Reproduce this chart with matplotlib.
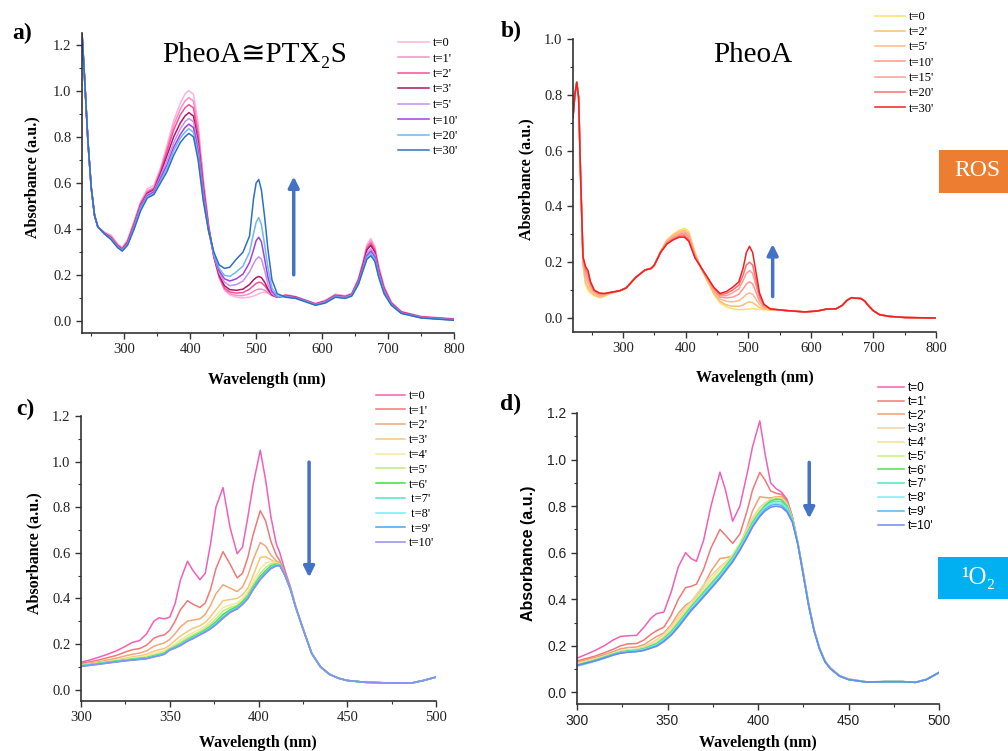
import matplotlib
matplotlib.use("Agg")
import matplotlib.pyplot as plt
from matplotlib.patches import Rectangle
from matplotlib.ticker import MultipleLocator, FormatStrFormatter

SERIF = ['Liberation Serif', 'DejaVu Serif', 'DejaVu Sans']
SANS = ['Liberation Sans', 'DejaVu Sans']

# ---------------- panel a: PheoA~PTX2S, ROS ----------------
wl_a = [236, 240, 245, 250, 255, 260, 270, 280, 290, 297,
        305, 315, 325, 335, 345, 355, 365, 375, 385, 392, 398,
        405, 412, 420, 428, 436, 444, 452, 460,
        470, 480, 490, 496, 500, 504, 508, 513, 518, 524, 532,
        545, 560, 575, 590, 605, 620, 635, 645, 655, 662,
        668, 674, 680, 686, 694, 705, 720, 750, 800]
labels_a = ["t=0", "t=1'", "t=2'", "t=3'", "t=5'", "t=10'", "t=20'", "t=30'"]
colors_a = ['#ffb3da', '#ff8cc8', '#f5509a', '#b01860',
            '#c890f0', '#a040e8', '#70b8f0', '#2e70c0']
a_t0 = [1.25, 1.05, 0.78, 0.58, 0.46, 0.41, 0.387, 0.375, 0.336, 0.32,
        0.355, 0.435, 0.52, 0.575, 0.59, 0.665, 0.765, 0.87, 0.945, 0.985, 1.0,
        0.985, 0.86, 0.62, 0.42, 0.28, 0.19, 0.135, 0.115,
        0.105, 0.102, 0.105, 0.11, 0.115, 0.12, 0.125, 0.127, 0.122, 0.112, 0.105,
        0.117, 0.108, 0.093, 0.078, 0.092, 0.118, 0.112, 0.122, 0.186, 0.26,
        0.333, 0.36, 0.325, 0.24, 0.152, 0.085, 0.044, 0.022, 0.012]
a_t1 = [1.25, 1.05, 0.78, 0.58, 0.46, 0.41, 0.385, 0.37, 0.333, 0.318,
        0.35, 0.43, 0.515, 0.565, 0.58, 0.655, 0.75, 0.85, 0.92, 0.955, 0.97,
        0.955, 0.835, 0.605, 0.415, 0.28, 0.19, 0.14, 0.12,
        0.113, 0.112, 0.12, 0.13, 0.137, 0.14, 0.14, 0.135, 0.125, 0.112, 0.105,
        0.115, 0.107, 0.092, 0.077, 0.09, 0.116, 0.11, 0.12, 0.183, 0.255,
        0.325, 0.35, 0.318, 0.233, 0.148, 0.082, 0.042, 0.021, 0.011]
a_t2 = [1.25, 1.05, 0.78, 0.58, 0.46, 0.41, 0.383, 0.365, 0.33, 0.315,
        0.345, 0.425, 0.51, 0.56, 0.575, 0.65, 0.74, 0.83, 0.895, 0.925, 0.94,
        0.925, 0.81, 0.59, 0.41, 0.28, 0.195, 0.145, 0.128,
        0.123, 0.125, 0.14, 0.155, 0.165, 0.17, 0.168, 0.155, 0.135, 0.115, 0.105,
        0.113, 0.106, 0.091, 0.076, 0.088, 0.114, 0.108, 0.118, 0.18, 0.25,
        0.318, 0.34, 0.31, 0.227, 0.145, 0.08, 0.041, 0.02, 0.01]
a_t3 = [1.25, 1.05, 0.78, 0.58, 0.46, 0.41, 0.382, 0.362, 0.327, 0.312,
        0.342, 0.42, 0.505, 0.555, 0.57, 0.64, 0.72, 0.80, 0.86, 0.89, 0.905,
        0.89, 0.78, 0.575, 0.405, 0.28, 0.20, 0.155, 0.138,
        0.135, 0.14, 0.16, 0.18, 0.19, 0.195, 0.19, 0.17, 0.14, 0.115, 0.105,
        0.112, 0.105, 0.09, 0.075, 0.087, 0.112, 0.107, 0.117, 0.175, 0.245,
        0.31, 0.33, 0.30, 0.22, 0.14, 0.078, 0.04, 0.019, 0.009]
a_t5 = [1.25, 1.05, 0.78, 0.58, 0.46, 0.41, 0.38, 0.36, 0.325, 0.31,
        0.338, 0.415, 0.50, 0.55, 0.565, 0.63, 0.70, 0.775, 0.835, 0.865, 0.88,
        0.865, 0.76, 0.56, 0.40, 0.285, 0.21, 0.17, 0.155,
        0.16, 0.175, 0.215, 0.25, 0.27, 0.28, 0.27, 0.22, 0.16, 0.12, 0.105,
        0.11, 0.103, 0.089, 0.074, 0.085, 0.11, 0.105, 0.115, 0.17, 0.235,
        0.295, 0.315, 0.29, 0.212, 0.135, 0.076, 0.038, 0.018, 0.008]
a_t10 = [1.25, 1.05, 0.78, 0.58, 0.46, 0.41, 0.38, 0.358, 0.323, 0.308,
         0.335, 0.41, 0.495, 0.545, 0.56, 0.62, 0.68, 0.755, 0.81, 0.84, 0.855,
         0.84, 0.74, 0.545, 0.395, 0.29, 0.22, 0.185, 0.175,
         0.185, 0.205, 0.255, 0.31, 0.35, 0.365, 0.345, 0.27, 0.19, 0.13, 0.107,
         0.108, 0.102, 0.088, 0.073, 0.083, 0.108, 0.103, 0.113, 0.166, 0.23,
         0.285, 0.305, 0.28, 0.205, 0.13, 0.074, 0.037, 0.017, 0.007]
a_t20 = [1.25, 1.05, 0.78, 0.58, 0.46, 0.41, 0.38, 0.357, 0.322, 0.307,
         0.333, 0.405, 0.49, 0.54, 0.555, 0.61, 0.665, 0.74, 0.795, 0.82, 0.835,
         0.82, 0.72, 0.53, 0.39, 0.29, 0.23, 0.20, 0.195,
         0.215, 0.24, 0.30, 0.38, 0.43, 0.45, 0.42, 0.33, 0.23, 0.145, 0.11,
         0.107, 0.10, 0.087, 0.072, 0.082, 0.107, 0.102, 0.112, 0.163, 0.225,
         0.278, 0.295, 0.27, 0.198, 0.125, 0.072, 0.036, 0.016, 0.006]
a_t30 = [1.25, 1.05, 0.78, 0.58, 0.46, 0.41, 0.38, 0.355, 0.32, 0.305,
         0.33, 0.40, 0.48, 0.535, 0.55, 0.60, 0.65, 0.72, 0.775, 0.80, 0.815,
         0.80, 0.70, 0.52, 0.39, 0.30, 0.245, 0.23, 0.235,
         0.27, 0.30, 0.37, 0.53, 0.60, 0.615, 0.57, 0.45, 0.31, 0.18, 0.12,
         0.105, 0.10, 0.085, 0.07, 0.08, 0.105, 0.10, 0.11, 0.16, 0.22,
         0.27, 0.285, 0.26, 0.19, 0.12, 0.07, 0.035, 0.015, 0.005]
series_a = [a_t0, a_t1, a_t2, a_t3, a_t5, a_t10, a_t20, a_t30]

# ---------------- panel b: PheoA, ROS ----------------
wl_b = [220, 223, 226, 229, 232, 236, 240, 244, 248, 254,
        262, 270, 280, 295, 305, 320, 335, 345, 350, 360,
        370, 380, 390, 398, 405, 415, 425, 435, 445, 455,
        465, 475, 485, 492, 497, 502, 507, 512, 518, 525,
        535, 560, 590, 610, 625, 640, 650, 658, 665, 672,
        680, 686, 693, 700, 710, 725, 750, 800]
labels_b = ["t=0", "t=2'", "t=5'", "t=10'", "t=15'", "t=20'", "t=30'"]
colors_b = ['#ffe066', '#f8c070', '#ffb890', '#ff9a8a', '#ff9c9c', '#f87070', '#f02020']
b_t0 = [0.72, 0.80, 0.845, 0.79, 0.52, 0.19, 0.12, 0.10, 0.09, 0.08,
        0.073, 0.077, 0.088, 0.098, 0.108, 0.145, 0.172, 0.178, 0.19, 0.24,
        0.28, 0.30, 0.315, 0.322, 0.31, 0.235, 0.175, 0.13, 0.085, 0.055,
        0.04, 0.033, 0.03, 0.03, 0.031, 0.033, 0.033, 0.032, 0.031, 0.03,
        0.029, 0.027, 0.022, 0.025, 0.032, 0.033, 0.045, 0.064, 0.073, 0.071,
        0.07, 0.061, 0.042, 0.026, 0.012, 0.006, 0.002, 0.0]
b_t2 = [0.72, 0.80, 0.845, 0.79, 0.52, 0.195, 0.13, 0.11, 0.095, 0.083,
        0.076, 0.08, 0.089, 0.098, 0.108, 0.145, 0.172, 0.178, 0.19, 0.239,
        0.278, 0.297, 0.31, 0.315, 0.303, 0.232, 0.177, 0.133, 0.09, 0.06,
        0.047, 0.042, 0.042, 0.047, 0.054, 0.058, 0.055, 0.047, 0.038, 0.033,
        0.03, 0.027, 0.022, 0.025, 0.032, 0.033, 0.045, 0.064, 0.073, 0.071,
        0.07, 0.061, 0.042, 0.026, 0.012, 0.006, 0.002, 0.0]
b_t5 = [0.72, 0.80, 0.845, 0.79, 0.52, 0.20, 0.145, 0.125, 0.105, 0.088,
        0.08, 0.083, 0.09, 0.098, 0.108, 0.145, 0.172, 0.178, 0.19, 0.238,
        0.275, 0.293, 0.305, 0.31, 0.298, 0.228, 0.178, 0.137, 0.097, 0.068,
        0.06, 0.058, 0.062, 0.074, 0.085, 0.09, 0.085, 0.068, 0.048, 0.036,
        0.031, 0.027, 0.022, 0.025, 0.032, 0.033, 0.045, 0.064, 0.073, 0.071,
        0.07, 0.061, 0.042, 0.026, 0.012, 0.006, 0.002, 0.0]
b_t10 = [0.72, 0.80, 0.845, 0.79, 0.52, 0.205, 0.155, 0.14, 0.115, 0.093,
         0.083, 0.085, 0.091, 0.098, 0.108, 0.145, 0.172, 0.178, 0.19, 0.237,
         0.272, 0.289, 0.30, 0.305, 0.292, 0.224, 0.179, 0.14, 0.102, 0.075,
         0.072, 0.075, 0.085, 0.105, 0.122, 0.13, 0.122, 0.095, 0.06, 0.04,
         0.032, 0.027, 0.022, 0.025, 0.032, 0.033, 0.045, 0.064, 0.073, 0.071,
         0.07, 0.061, 0.042, 0.026, 0.012, 0.006, 0.002, 0.0]
b_t15 = [0.72, 0.80, 0.845, 0.79, 0.52, 0.21, 0.165, 0.15, 0.12, 0.096,
         0.086, 0.086, 0.091, 0.098, 0.108, 0.145, 0.172, 0.178, 0.19, 0.236,
         0.27, 0.286, 0.297, 0.30, 0.285, 0.22, 0.18, 0.142, 0.105, 0.08,
         0.08, 0.09, 0.105, 0.135, 0.16, 0.17, 0.16, 0.12, 0.072, 0.044,
         0.032, 0.027, 0.022, 0.025, 0.032, 0.033, 0.045, 0.064, 0.073, 0.071,
         0.07, 0.061, 0.042, 0.026, 0.012, 0.006, 0.002, 0.0]
b_t20 = [0.72, 0.80, 0.845, 0.79, 0.52, 0.215, 0.175, 0.16, 0.125, 0.098,
         0.088, 0.087, 0.092, 0.098, 0.108, 0.145, 0.172, 0.178, 0.19, 0.236,
         0.268, 0.283, 0.293, 0.295, 0.28, 0.218, 0.18, 0.144, 0.108, 0.084,
         0.088, 0.10, 0.118, 0.155, 0.19, 0.20, 0.19, 0.14, 0.08, 0.047,
         0.033, 0.027, 0.022, 0.025, 0.032, 0.033, 0.045, 0.064, 0.073, 0.071,
         0.07, 0.061, 0.042, 0.026, 0.012, 0.006, 0.002, 0.0]
b_t30 = [0.72, 0.80, 0.845, 0.79, 0.52, 0.22, 0.185, 0.17, 0.13, 0.10,
         0.09, 0.088, 0.092, 0.098, 0.108, 0.145, 0.172, 0.178, 0.19, 0.235,
         0.265, 0.28, 0.29, 0.29, 0.275, 0.215, 0.18, 0.145, 0.11, 0.088,
         0.095, 0.11, 0.13, 0.18, 0.235, 0.257, 0.235, 0.17, 0.09, 0.05,
         0.033, 0.027, 0.022, 0.025, 0.032, 0.033, 0.045, 0.064, 0.073, 0.071,
         0.07, 0.061, 0.042, 0.026, 0.012, 0.006, 0.002, 0.0]
series_b = [b_t0, b_t2, b_t5, b_t10, b_t15, b_t20, b_t30]

# ---------------- panel c: 1O2 probe with PheoA~PTX2S ----------------
wl_c = [300, 305, 310, 315, 320, 325, 329, 333, 337, 341,
        344, 347, 350, 353, 356, 360, 363, 367, 370, 373,
        376, 380, 384, 388, 391, 394, 397, 401, 404, 407,
        410, 412, 415, 418, 421, 425, 430, 435, 440, 445,
        450, 460, 470, 480, 487, 493, 500]
labels_c = ["t=0", "t=1'", "t=2'", "t=3'", "t=4'", "t=5'", "t=6'",
            " t=7'", " t=8'", " t=9'", "t=10'"]
colors_c = ['#f060b8', '#f07878', '#f0a878', '#f5c878', '#f5e8a0', '#c0e880',
            '#40e040', '#50e8b8', '#70f0f0', '#40a8f0', '#9090f0']
c_t0 = [0.12, 0.13, 0.142, 0.155, 0.17, 0.19, 0.207, 0.215, 0.245, 0.30,
        0.315, 0.31, 0.318, 0.377, 0.48, 0.563, 0.523, 0.482, 0.51, 0.64,
        0.80, 0.886, 0.71, 0.596, 0.625, 0.757, 0.90, 1.05, 0.92, 0.757,
        0.64, 0.60, 0.52, 0.45, 0.365, 0.27, 0.16, 0.10, 0.068, 0.05,
        0.04, 0.033, 0.03, 0.029, 0.03, 0.04, 0.055]
c_t1 = [0.115, 0.122, 0.13, 0.14, 0.15, 0.165, 0.175, 0.18, 0.195, 0.225,
        0.235, 0.24, 0.26, 0.30, 0.35, 0.39, 0.375, 0.36, 0.38, 0.44,
        0.53, 0.605, 0.55, 0.49, 0.51, 0.58, 0.68, 0.785, 0.74, 0.65,
        0.59, 0.565, 0.51, 0.445, 0.36, 0.268, 0.158, 0.099, 0.067, 0.05,
        0.04, 0.032, 0.03, 0.029, 0.03, 0.04, 0.055]
c_t2 = [0.11, 0.116, 0.122, 0.13, 0.138, 0.148, 0.155, 0.16, 0.17, 0.19,
        0.198, 0.205, 0.22, 0.245, 0.275, 0.30, 0.305, 0.31, 0.33, 0.37,
        0.42, 0.46, 0.445, 0.43, 0.45, 0.50, 0.57, 0.645, 0.63, 0.59,
        0.565, 0.555, 0.505, 0.44, 0.36, 0.268, 0.158, 0.099, 0.067, 0.05,
        0.04, 0.032, 0.03, 0.029, 0.03, 0.04, 0.055]
c_t3 = [0.108, 0.113, 0.118, 0.124, 0.13, 0.138, 0.144, 0.148, 0.155, 0.168,
        0.175, 0.18, 0.195, 0.215, 0.235, 0.255, 0.268, 0.28, 0.295, 0.32,
        0.35, 0.39, 0.395, 0.40, 0.415, 0.445, 0.50, 0.58, 0.583, 0.57,
        0.558, 0.55, 0.50, 0.44, 0.36, 0.268, 0.158, 0.099, 0.067, 0.05,
        0.04, 0.032, 0.03, 0.029, 0.03, 0.04, 0.055]
c_t4 = [0.107, 0.112, 0.117, 0.122, 0.128, 0.134, 0.139, 0.143, 0.148, 0.158,
        0.165, 0.17, 0.185, 0.20, 0.218, 0.238, 0.25, 0.265, 0.28, 0.30,
        0.325, 0.36, 0.37, 0.38, 0.40, 0.43, 0.475, 0.53, 0.555, 0.562,
        0.555, 0.548, 0.50, 0.44, 0.36, 0.268, 0.158, 0.099, 0.067, 0.05,
        0.04, 0.032, 0.03, 0.029, 0.03, 0.04, 0.055]
c_t5 = [0.106, 0.111, 0.116, 0.121, 0.126, 0.131, 0.135, 0.139, 0.143, 0.152,
        0.158, 0.164, 0.18, 0.193, 0.208, 0.228, 0.24, 0.255, 0.27, 0.288,
        0.31, 0.345, 0.36, 0.37, 0.39, 0.42, 0.46, 0.51, 0.535, 0.552,
        0.553, 0.548, 0.50, 0.44, 0.36, 0.268, 0.158, 0.099, 0.067, 0.05,
        0.04, 0.032, 0.03, 0.029, 0.03, 0.04, 0.055]
c_t6 = [0.105, 0.11, 0.115, 0.12, 0.125, 0.13, 0.133, 0.137, 0.14, 0.148,
        0.153, 0.16, 0.177, 0.188, 0.20, 0.22, 0.232, 0.248, 0.262, 0.278,
        0.298, 0.33, 0.35, 0.365, 0.385, 0.41, 0.45, 0.497, 0.522, 0.543,
        0.55, 0.547, 0.50, 0.44, 0.36, 0.268, 0.158, 0.099, 0.067, 0.05,
        0.04, 0.032, 0.03, 0.029, 0.03, 0.04, 0.055]
c_t7 = [0.104, 0.109, 0.114, 0.119, 0.124, 0.129, 0.132, 0.135, 0.138, 0.146,
        0.151, 0.158, 0.176, 0.186, 0.197, 0.217, 0.228, 0.245, 0.258, 0.273,
        0.292, 0.322, 0.345, 0.36, 0.38, 0.405, 0.445, 0.49, 0.515, 0.537,
        0.548, 0.546, 0.50, 0.44, 0.36, 0.268, 0.158, 0.099, 0.067, 0.05,
        0.04, 0.032, 0.03, 0.029, 0.03, 0.04, 0.055]
c_t8 = [0.103, 0.108, 0.113, 0.118, 0.123, 0.128, 0.131, 0.134, 0.137, 0.145,
        0.15, 0.157, 0.175, 0.184, 0.195, 0.215, 0.226, 0.243, 0.256, 0.27,
        0.288, 0.318, 0.342, 0.357, 0.377, 0.402, 0.442, 0.487, 0.512, 0.534,
        0.546, 0.545, 0.50, 0.44, 0.36, 0.268, 0.158, 0.099, 0.067, 0.05,
        0.04, 0.032, 0.03, 0.029, 0.03, 0.04, 0.055]
c_t9 = [0.102, 0.107, 0.112, 0.117, 0.122, 0.127, 0.13, 0.133, 0.136, 0.144,
        0.149, 0.156, 0.174, 0.183, 0.194, 0.213, 0.224, 0.241, 0.254, 0.268,
        0.286, 0.315, 0.34, 0.355, 0.375, 0.40, 0.44, 0.485, 0.51, 0.532,
        0.544, 0.544, 0.50, 0.44, 0.36, 0.268, 0.158, 0.099, 0.067, 0.05,
        0.04, 0.032, 0.03, 0.029, 0.03, 0.04, 0.055]
c_t10 = [0.102, 0.106, 0.111, 0.116, 0.121, 0.126, 0.129, 0.132, 0.135, 0.143,
         0.148, 0.155, 0.173, 0.182, 0.193, 0.212, 0.223, 0.24, 0.252, 0.266,
         0.284, 0.312, 0.338, 0.353, 0.373, 0.398, 0.438, 0.482, 0.507, 0.53,
         0.542, 0.543, 0.50, 0.44, 0.36, 0.268, 0.158, 0.099, 0.067, 0.05,
         0.04, 0.032, 0.03, 0.029, 0.03, 0.04, 0.055]
series_c = [c_t0, c_t1, c_t2, c_t3, c_t4, c_t5, c_t6, c_t7, c_t8, c_t9, c_t10]

# ---------------- panel d: 1O2 probe with PheoA ----------------
wl_d = [300, 305, 310, 315, 320, 324, 328, 333, 337, 341,
        344, 348, 352, 356, 360, 363, 366, 370, 374, 379,
        382, 386, 390, 394, 397, 401, 404, 407, 410, 413,
        416, 419, 422, 425, 428, 431, 434, 437, 440, 445,
        450, 460, 470, 480, 487, 493, 500]
labels_d = ["t=0", "t=1'", "t=2'", "t=3'", "t=4'", "t=5'", "t=6'",
            "t=7'", "t=8'", "t=9'", "t=10'"]
colors_d = ['#f060b8', '#f07878', '#f0a070', '#f8d0a0', '#f0e090', '#c8f080',
            '#50e050', '#50e8c0', '#80f0f0', '#50b8f0', '#7088f0']
d_t0 = [0.147, 0.163, 0.18, 0.20, 0.225, 0.24, 0.243, 0.245, 0.28, 0.32,
        0.338, 0.345, 0.43, 0.54, 0.60, 0.575, 0.563, 0.655, 0.80, 0.946,
        0.87, 0.735, 0.80, 0.94, 1.056, 1.166, 1.02, 0.90, 0.875, 0.86,
        0.83, 0.755, 0.645, 0.515, 0.38, 0.27, 0.19, 0.135, 0.105, 0.072,
        0.057, 0.045, 0.046, 0.046, 0.043, 0.055, 0.085]
d_t1 = [0.135, 0.145, 0.156, 0.17, 0.185, 0.20, 0.208, 0.21, 0.225, 0.25,
        0.265, 0.28, 0.33, 0.40, 0.45, 0.455, 0.465, 0.53, 0.62, 0.70,
        0.675, 0.64, 0.68, 0.78, 0.87, 0.945, 0.91, 0.865, 0.855, 0.85,
        0.825, 0.752, 0.643, 0.513, 0.378, 0.268, 0.189, 0.134, 0.104, 0.072,
        0.057, 0.045, 0.046, 0.046, 0.043, 0.055, 0.085]
d_t2 = [0.13, 0.14, 0.15, 0.162, 0.175, 0.187, 0.192, 0.195, 0.205, 0.225,
        0.24, 0.255, 0.29, 0.34, 0.375, 0.39, 0.41, 0.46, 0.52, 0.575,
        0.578, 0.585, 0.63, 0.71, 0.78, 0.84, 0.837, 0.835, 0.84, 0.84,
        0.815, 0.75, 0.64, 0.51, 0.375, 0.266, 0.188, 0.133, 0.103, 0.071,
        0.056, 0.045, 0.046, 0.046, 0.043, 0.055, 0.085]
d_t3 = [0.125, 0.134, 0.144, 0.155, 0.167, 0.178, 0.183, 0.186, 0.196, 0.213,
        0.226, 0.25, 0.283, 0.325, 0.365, 0.39, 0.42, 0.462, 0.50, 0.54,
        0.557, 0.59, 0.64, 0.705, 0.75, 0.795, 0.815, 0.83, 0.838, 0.836,
        0.81, 0.748, 0.64, 0.51, 0.375, 0.266, 0.188, 0.133, 0.103, 0.071,
        0.056, 0.045, 0.046, 0.046, 0.043, 0.055, 0.085]
d_t4 = [0.122, 0.132, 0.142, 0.154, 0.166, 0.176, 0.181, 0.184, 0.192, 0.206,
        0.216, 0.24, 0.272, 0.312, 0.352, 0.38, 0.408, 0.448, 0.485, 0.53,
        0.555, 0.59, 0.64, 0.695, 0.74, 0.782, 0.808, 0.826, 0.835, 0.832,
        0.806, 0.746, 0.64, 0.51, 0.375, 0.266, 0.188, 0.133, 0.103, 0.071,
        0.056, 0.045, 0.046, 0.046, 0.043, 0.055, 0.085]
d_t5 = [0.118, 0.128, 0.139, 0.152, 0.165, 0.174, 0.179, 0.182, 0.19, 0.202,
        0.211, 0.234, 0.263, 0.302, 0.343, 0.371, 0.398, 0.436, 0.472, 0.515,
        0.545, 0.585, 0.636, 0.69, 0.736, 0.779, 0.806, 0.825, 0.833, 0.83,
        0.804, 0.745, 0.64, 0.51, 0.375, 0.266, 0.188, 0.133, 0.103, 0.071,
        0.056, 0.045, 0.046, 0.046, 0.043, 0.055, 0.085]
d_t6 = [0.117, 0.127, 0.138, 0.151, 0.164, 0.173, 0.178, 0.181, 0.188, 0.20,
        0.209, 0.232, 0.26, 0.298, 0.338, 0.367, 0.394, 0.43, 0.465, 0.51,
        0.54, 0.58, 0.63, 0.685, 0.73, 0.775, 0.803, 0.822, 0.83, 0.827,
        0.801, 0.744, 0.64, 0.509, 0.374, 0.265, 0.187, 0.132, 0.102, 0.07,
        0.055, 0.044, 0.046, 0.046, 0.043, 0.055, 0.085]
d_t7 = [0.116, 0.126, 0.137, 0.15, 0.163, 0.172, 0.177, 0.18, 0.186, 0.197,
        0.206, 0.228, 0.256, 0.293, 0.333, 0.363, 0.39, 0.425, 0.46, 0.505,
        0.535, 0.575, 0.625, 0.68, 0.725, 0.77, 0.798, 0.816, 0.822, 0.818,
        0.795, 0.741, 0.639, 0.508, 0.374, 0.265, 0.187, 0.132, 0.102, 0.07,
        0.055, 0.044, 0.046, 0.046, 0.043, 0.055, 0.085]
d_t8 = [0.112, 0.122, 0.133, 0.146, 0.16, 0.169, 0.174, 0.177, 0.183, 0.194,
        0.203, 0.224, 0.252, 0.289, 0.329, 0.359, 0.385, 0.42, 0.455, 0.50,
        0.53, 0.57, 0.62, 0.675, 0.72, 0.765, 0.793, 0.81, 0.815, 0.81,
        0.788, 0.738, 0.638, 0.507, 0.373, 0.265, 0.187, 0.132, 0.102, 0.07,
        0.055, 0.044, 0.046, 0.046, 0.043, 0.055, 0.085]
d_t9 = [0.117, 0.126, 0.136, 0.148, 0.161, 0.169, 0.173, 0.176, 0.181, 0.192,
        0.20, 0.221, 0.249, 0.285, 0.325, 0.355, 0.38, 0.415, 0.45, 0.495,
        0.525, 0.565, 0.615, 0.67, 0.715, 0.76, 0.787, 0.803, 0.808, 0.803,
        0.782, 0.735, 0.637, 0.506, 0.373, 0.265, 0.187, 0.132, 0.102, 0.07,
        0.055, 0.044, 0.046, 0.046, 0.043, 0.055, 0.085]
d_t10 = [0.115, 0.125, 0.135, 0.147, 0.16, 0.168, 0.172, 0.175, 0.18, 0.19,
         0.198, 0.218, 0.245, 0.28, 0.32, 0.35, 0.375, 0.41, 0.445, 0.49,
         0.52, 0.56, 0.61, 0.665, 0.71, 0.755, 0.78, 0.795, 0.80, 0.795,
         0.775, 0.73, 0.635, 0.505, 0.372, 0.264, 0.186, 0.132, 0.102, 0.07,
         0.055, 0.044, 0.046, 0.046, 0.043, 0.055, 0.085]
series_d = [d_t0, d_t1, d_t2, d_t3, d_t4, d_t5, d_t6, d_t7, d_t8, d_t9, d_t10]

W, H = 1008, 751
ARROW = '#4472c4'


def fx(x):
    return x / W


def fy(y):
    return 1 - y / H


def make_axes(fig, left, top, right, bottom):
    return fig.add_axes([fx(left), fy(bottom), fx(right - left), (bottom - top) / H])


def style(ax, xlim, ylim, xmaj, xmin, family, size):
    ax.set_xlim(*xlim)
    ax.set_ylim(*ylim)
    for s in ['top', 'right']:
        ax.spines[s].set_visible(False)
    for s in ['left', 'bottom']:
        ax.spines[s].set_linewidth(1.2)
        ax.spines[s].set_color('#333333')
    ax.xaxis.set_major_locator(MultipleLocator(xmaj))
    ax.xaxis.set_minor_locator(MultipleLocator(xmin))
    ax.yaxis.set_major_locator(MultipleLocator(0.2))
    ax.yaxis.set_minor_locator(MultipleLocator(0.1))
    ax.yaxis.set_major_formatter(FormatStrFormatter('%.1f'))
    ax.tick_params(which='major', direction='out', length=4, width=1,
                   labelsize=size, color='#333333', labelcolor='#222222')
    ax.tick_params(which='minor', direction='out', length=2.5, width=0.8, color='#333333')
    for lbl in ax.get_xticklabels() + ax.get_yticklabels():
        lbl.set_family(family)


def legend(ax, fig, x, y, family, size, hl, ls):
    leg = ax.legend(loc='upper left', bbox_to_anchor=(fx(x), fy(y)),
                    bbox_transform=fig.transFigure, frameon=False,
                    borderpad=0, borderaxespad=0, handlelength=hl,
                    handletextpad=0.3, labelspacing=ls,
                    prop={'family': family, 'size': size})
    return leg


fig = plt.figure(figsize=(10.08, 7.51), dpi=100)

# panel a
ax = make_axes(fig, 82, 33, 454, 333)
for ys, c, lab in zip(series_a, colors_a, labels_a):
    ax.plot(wl_a, ys, color=c, lw=1.1, label=lab)
style(ax, (236, 800), (-0.05, 1.25), 100, 50, SERIF, 10.5)
legend(ax, fig, 398, 37, SERIF, 9, 2.5, 0.28)
ax.annotate('', xy=(557, 0.64), xytext=(557, 0.19),
            arrowprops=dict(arrowstyle='-|>', color=ARROW, lw=2.5, mutation_scale=16))

# panel b
ax = make_axes(fig, 573, 39, 936, 332)
for ys, c, lab in zip(series_b, colors_b, labels_b):
    ax.plot(wl_b, ys, color=c, lw=1.1, label=lab)
style(ax, (220, 800), (-0.05, 1.0), 100, 50, SERIF, 10.5)
legend(ax, fig, 875, 11, SERIF, 9, 2.4, 0.26)
ax.annotate('', xy=(539, 0.275), xytext=(539, 0.067),
            arrowprops=dict(arrowstyle='-|>', color=ARROW, lw=2.5, mutation_scale=16))

# panel c
ax = make_axes(fig, 81, 416, 436, 701)
for ys, c, lab in zip(series_c, colors_c, labels_c):
    ax.plot(wl_c, ys, color=c, lw=1.1, label=lab)
style(ax, (300, 500), (-0.05, 1.2), 50, 25, SERIF, 10.5)
legend(ax, fig, 376, 390, SERIF, 9, 2.3, 0.22)
ax.annotate('', xy=(428.5, 0.48), xytext=(428.5, 1.01),
            arrowprops=dict(arrowstyle='-|>', color=ARROW, lw=2.5, mutation_scale=16))

# panel d
ax = make_axes(fig, 577, 413, 939, 704)
for ys, c, lab in zip(series_d, colors_d, labels_d):
    ax.plot(wl_d, ys, color=c, lw=1.1, label=lab)
style(ax, (300, 500), (-0.05, 1.2), 50, 25, SANS, 10)
legend(ax, fig, 878, 382, SANS, 8.5, 2.2, 0.15)
ax.annotate('', xy=(428.3, 0.735), xytext=(428.3, 1.0),
            arrowprops=dict(arrowstyle='-|>', color=ARROW, lw=2.5, mutation_scale=16))

# panel letters
for txt, x, y in [('a)', 22, 33), ('b)', 511, 31), ('c)', 25, 409), ('d)', 511, 404)]:
    fig.text(fx(x), fy(y), txt, ha='center', va='center', family=SERIF,
             fontsize=17, fontweight='bold')

# titles
fig.text(fx(255), fy(55), 'PheoA≅PTX₂S', ha='center', va='center',
         family=SERIF, fontsize=21)
fig.text(fx(753), fy(55), 'PheoA', ha='center', va='center',
         family=SERIF, fontsize=21)

# axis labels
for x, y, fam in [(32, 177, SERIF), (526, 179, SERIF), (34, 553, SERIF), (529, 553, SANS)]:
    fig.text(fx(x), fy(y), 'Absorbance (a.u.)', rotation=90, ha='center', va='center',
             family=fam, fontsize=11.5, fontweight='bold')
for x, y in [(267, 380), (755, 378), (258, 743), (758, 743)]:
    fig.text(fx(x), fy(y), 'Wavelength (nm)', ha='center', va='center',
             family=SERIF, fontsize=11.5, fontweight='bold')

# coloured tags
fig.add_artist(Rectangle((fx(939), fy(193)), fx(80), (193 - 150) / H,
                         transform=fig.transFigure, facecolor='#ed7d31', edgecolor='none'))
fig.text(fx(977), fy(171), 'ROS', ha='center', va='center', color='white',
         family=SERIF, fontsize=17)
fig.add_artist(Rectangle((fx(938), fy(599)), fx(80), (599 - 557) / H,
                         transform=fig.transFigure, facecolor='#00b0f0', edgecolor='none'))
fig.text(fx(978), fy(578), '¹O₂', ha='center', va='center', color='white',
         family=SERIF, fontsize=18)

fig.savefig('out.png', dpi=100)
